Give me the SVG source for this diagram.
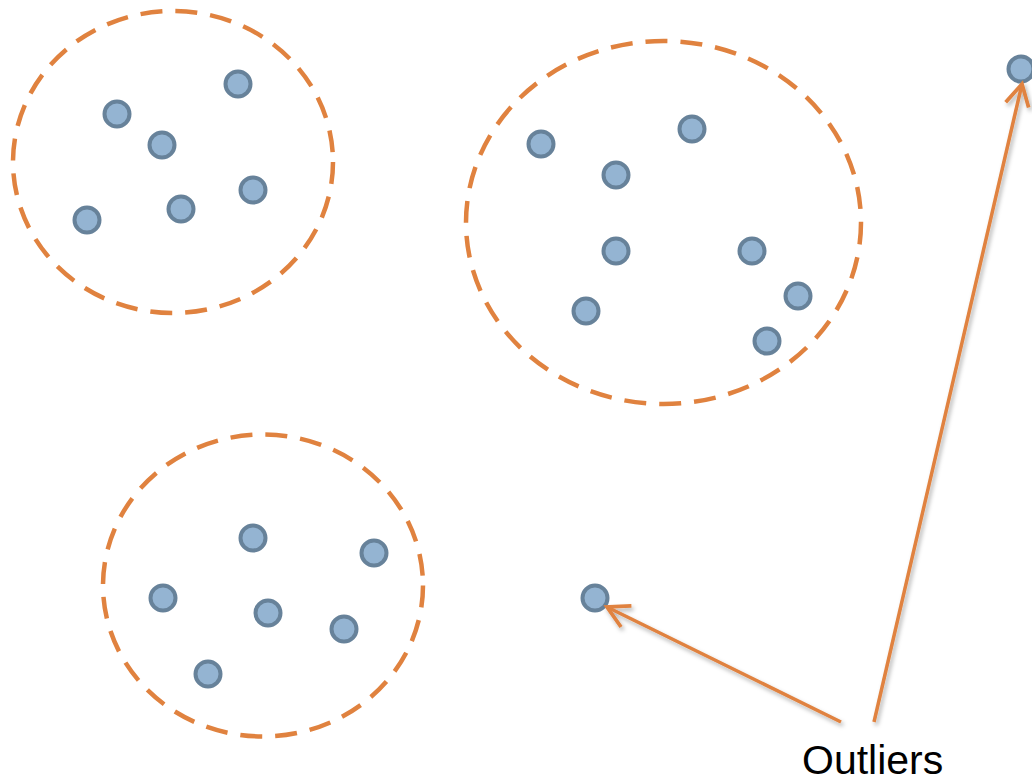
<svg xmlns="http://www.w3.org/2000/svg" width="1032" height="783" viewBox="0 0 1032 783">
  <defs>
    <style>
      .cluster { fill: none; stroke: #e0823f; stroke-width: 4.5; stroke-dasharray: 22 13; }
      .pt { fill: #94b4d2; stroke: #67829a; stroke-width: 4; }
      .link { fill: none; stroke: #e0823f; stroke-width: 3.5; stroke-linecap: butt; filter: url(#shadow); }
      .label { font-family: "Liberation Sans", Arial, sans-serif; font-size: 41px; fill: #000; }
    </style>
    <filter id="shadow" x="-20%" y="-20%" width="140%" height="140%">
      <feDropShadow dx="2" dy="3" stdDeviation="2" flood-color="#000" flood-opacity="0.3"/>
    </filter>
    <marker id="open-arrow" markerUnits="userSpaceOnUse" markerWidth="30" markerHeight="30" viewBox="-24 -14 28 28" refX="0" refY="0" orient="auto">
      <path d="M -20 -11 L 0 0 L -20 11" fill="none" stroke="#e0823f" stroke-width="3.5"/>
    </marker>
  </defs>
  <rect width="1032" height="783" fill="#ffffff"/>

  <!-- cluster boundaries with their points -->
  <g id="cluster-a">
    <ellipse class="cluster" cx="173" cy="162" rx="160" ry="151"/>
    <circle class="pt" cx="117" cy="114" r="12.5"/>
    <circle class="pt" cx="238" cy="84" r="12.5"/>
    <circle class="pt" cx="162" cy="145" r="12.5"/>
    <circle class="pt" cx="181" cy="209" r="12.5"/>
    <circle class="pt" cx="253" cy="190" r="12.5"/>
    <circle class="pt" cx="87" cy="220" r="12.5"/>
  </g>

  <g id="cluster-b">
    <ellipse class="cluster" cx="663.5" cy="222.5" rx="197.5" ry="181.5"/>
    <circle class="pt" cx="541" cy="144" r="12.5"/>
    <circle class="pt" cx="692" cy="129" r="12.5"/>
    <circle class="pt" cx="616" cy="175" r="12.5"/>
    <circle class="pt" cx="616" cy="251" r="12.5"/>
    <circle class="pt" cx="752" cy="251" r="12.5"/>
    <circle class="pt" cx="798" cy="296" r="12.5"/>
    <circle class="pt" cx="586" cy="311" r="12.5"/>
    <circle class="pt" cx="767" cy="341" r="12.5"/>
  </g>

  <g id="cluster-c">
    <ellipse class="cluster" cx="263" cy="585.5" rx="160" ry="151"/>
    <circle class="pt" cx="253" cy="538" r="12.5"/>
    <circle class="pt" cx="374" cy="553" r="12.5"/>
    <circle class="pt" cx="163" cy="598" r="12.5"/>
    <circle class="pt" cx="268" cy="613" r="12.5"/>
    <circle class="pt" cx="344" cy="629" r="12.5"/>
    <circle class="pt" cx="208" cy="674" r="12.5"/>
  </g>

  <!-- isolated points -->
  <g id="outlier-1">
    <circle class="pt" cx="595" cy="598" r="12.5"/>
  </g>
  <g id="outlier-2">
    <circle class="pt" cx="1021" cy="69" r="12.5"/>
  </g>

  <!-- pointers from the label -->
  <g id="connectors">
    <line class="link" x1="841" y1="722" x2="607" y2="607" marker-end="url(#open-arrow)"/>
    <line class="link" x1="874" y1="722" x2="1022" y2="84" marker-end="url(#open-arrow)"/>
  </g>

  <g id="label">
    <text class="label" x="802" y="774">Outliers</text>
  </g>
</svg>
